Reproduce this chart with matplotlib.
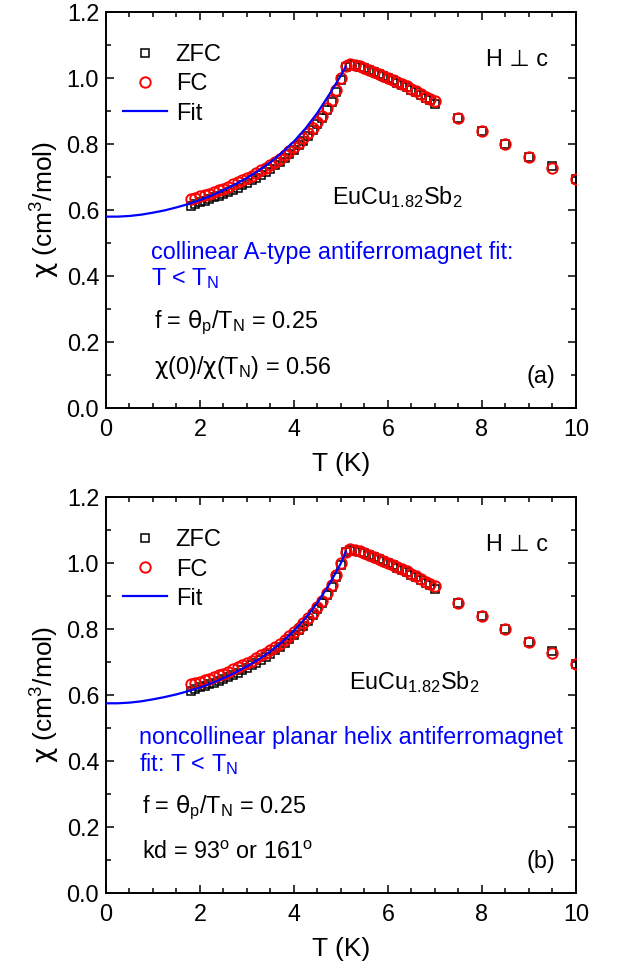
import matplotlib
matplotlib.use('Agg')
import matplotlib.pyplot as plt
import numpy as np
from matplotlib.ticker import MultipleLocator

plt.rcParams['font.family'] = ['Liberation Sans', 'DejaVu Sans']
plt.rcParams['mathtext.fontset'] = 'custom'
plt.rcParams['mathtext.rm'] = 'Liberation Sans'
plt.rcParams['mathtext.it'] = 'Liberation Sans:italic'
plt.rcParams['mathtext.bf'] = 'Liberation Sans:bold'
plt.rcParams['mathtext.sf'] = 'DejaVu Sans'

# Temperature grid of measured points (K)
T_data = [1.8, 1.9, 2.0, 2.1, 2.2, 2.3, 2.4, 2.5, 2.6, 2.7, 2.8, 2.9, 3.0,
          3.1, 3.2, 3.3, 3.4, 3.5, 3.6, 3.7, 3.8, 3.9, 4.0, 4.1, 4.2, 4.3,
          4.4, 4.5, 4.6, 4.7, 4.8, 4.9, 5.0, 5.1, 5.2, 5.3, 5.4, 5.5, 5.6,
          5.7, 5.8, 5.9, 6.0, 6.1, 6.2, 6.3, 6.4, 6.5, 6.6, 6.7, 6.8, 6.9,
          7.0, 7.5, 8.0, 8.5, 9.0, 9.5, 10.0]

chi_fc = [0.633, 0.637, 0.641, 0.646, 0.650, 0.655, 0.660, 0.664, 0.671, 0.679,
          0.685, 0.691, 0.697, 0.704, 0.712, 0.720, 0.728, 0.737, 0.746, 0.756,
          0.767, 0.778, 0.790, 0.803, 0.817, 0.832, 0.848, 0.866, 0.886, 0.908,
          0.934, 0.963, 1.000, 1.035, 1.042, 1.040, 1.036, 1.031, 1.025, 1.019,
          1.013, 1.007, 1.001, 0.995, 0.989, 0.982, 0.975, 0.968, 0.960, 0.952,
          0.944, 0.937, 0.930, 0.879, 0.839, 0.800, 0.761, 0.727, 0.693]

chi_zfc = [0.612, 0.618, 0.623, 0.628, 0.633, 0.638, 0.643, 0.649, 0.655, 0.661,
           0.668, 0.675, 0.682, 0.690, 0.698, 0.706, 0.715, 0.725, 0.735, 0.745,
           0.757, 0.769, 0.782, 0.796, 0.810, 0.825, 0.842, 0.860, 0.880, 0.902,
           0.928, 0.958, 0.995, 1.032, 1.040, 1.038, 1.034, 1.029, 1.023, 1.017,
           1.011, 1.005, 0.999, 0.993, 0.986, 0.979, 0.972, 0.965, 0.957, 0.949,
           0.941, 0.932, 0.920, 0.879, 0.839, 0.800, 0.762, 0.732, 0.694]

# fit curves (T < T_N)
T_fit = [0.0, 0.25, 0.5, 0.75, 1.0, 1.25, 1.5, 1.75, 2.0, 2.25, 2.5, 2.75,
         3.0, 3.25, 3.5, 3.75, 4.0, 4.25, 4.5, 4.75, 5.0, 5.1]
chi_fit_a = [0.580, 0.580, 0.582, 0.586, 0.592, 0.599, 0.608, 0.618, 0.630,
             0.644, 0.660, 0.678, 0.697, 0.720, 0.745, 0.775, 0.808, 0.848,
             0.895, 0.950, 1.008, 1.035]
chi_fit_b = [0.575, 0.575, 0.577, 0.581, 0.587, 0.594, 0.602, 0.612, 0.623,
             0.636, 0.651, 0.668, 0.687, 0.708, 0.733, 0.761, 0.795, 0.834,
             0.880, 0.935, 1.000, 1.035]

CHI = '$\\mathsf{\\chi}$'
panels = [
    dict(fit=chi_fit_a, label='(a)',
         model=['collinear A-type antiferromagnet fit:', 'T < T$_\\mathrm{N}$'],
         last=CHI + '(0)/' + CHI + '(T$_\\mathrm{N}$) = 0.56',
         model_x=0.96, f_x=1.02, formula_x=4.8),
    dict(fit=chi_fit_b, label='(b)',
         model=['noncollinear planar helix antiferromagnet', 'fit: T < T$_\\mathrm{N}$'],
         last='kd = 93$^\\mathrm{o}$ or 161$^\\mathrm{o}$',
         model_x=0.70, f_x=0.77, formula_x=5.18),
]

fig = plt.figure(figsize=(6.17, 9.71), dpi=100)
boxes = [[0.1718, 0.5798, 0.7617, 0.4078], [0.1718, 0.0803, 0.7617, 0.4078]]

fs = 16.8
for box, p in zip(boxes, panels):
    ax = fig.add_axes(box)
    ax.plot(T_data, chi_zfc, 's', mfc='none', mec='black', ms=5.5, mew=1.1,
            label='ZFC', zorder=3)
    ax.plot(T_data, chi_fc, 'o', mfc='none', mec='red', ms=7.5, mew=1.4,
            label='FC', zorder=4)
    ax.plot(T_fit, p['fit'], '-', color='#0000ff', lw=1.6, label='Fit', zorder=5)

    ax.set_xlim(0, 10)
    ax.set_ylim(0, 1.2)
    ax.xaxis.set_major_locator(MultipleLocator(2))
    ax.xaxis.set_minor_locator(MultipleLocator(0.5))
    ax.yaxis.set_major_locator(MultipleLocator(0.2))
    ax.yaxis.set_minor_locator(MultipleLocator(0.1))
    ax.xaxis.set_major_formatter(plt.FuncFormatter(lambda v, _: f'{v:.0f}'))
    ax.yaxis.set_major_formatter(plt.FuncFormatter(lambda v, _: f'{v:.1f}'))
    ax.tick_params(which='both', direction='in', top=True, right=True,
                   labelsize=fs, width=1.1)
    ax.tick_params(which='major', length=6)
    ax.tick_params(which='minor', length=3.5)
    ax.tick_params(axis='x', pad=7)
    ax.tick_params(axis='y', pad=5)
    for s in ax.spines.values():
        s.set_linewidth(1.4)

    ax.set_xlabel('T (K)', fontsize=19, labelpad=8)
    ax.set_ylabel(CHI + ' (cm$^3$/mol)', fontsize=19, labelpad=3)

    ax.legend(loc='upper left', bbox_to_anchor=(0.0, 0.96), frameon=False,
              fontsize=17, handlelength=1.9, handletextpad=0.35,
              labelspacing=0.3, borderaxespad=0.3)

    ax.text(8.74, 1.055, 'H \u22a5 c', fontsize=fs, ha='center', va='center')
    ax.text(p['formula_x'], 0.64, 'EuCu$_{1.82}$Sb$_2$', fontsize=fs,
            ha='left', va='center')
    ax.text(p['model_x'], 0.472, p['model'][0], fontsize=fs, color='#0000ff',
            ha='left', va='center')
    ax.text(p['model_x'], 0.392, p['model'][1], fontsize=fs, color='#0000ff',
            ha='left', va='center')
    ax.text(p['f_x'], 0.258,
            'f = $\\mathsf{\\theta}_\\mathrm{p}$/T$_\\mathrm{N}$ = 0.25',
            fontsize=fs, ha='left', va='center')
    ax.text(p['f_x'], 0.122, p['last'], fontsize=fs, ha='left', va='center')
    ax.text(9.25, 0.095, p['label'], fontsize=fs, ha='center', va='center')

fig.savefig('out.png', dpi=100)
